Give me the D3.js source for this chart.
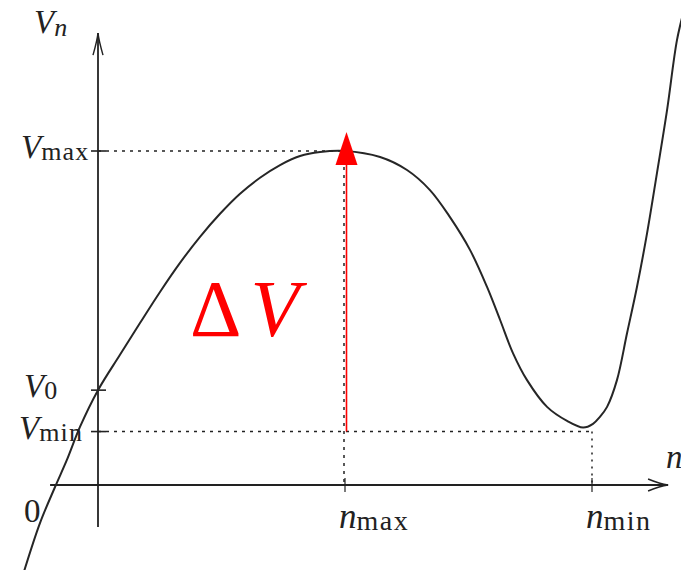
<!DOCTYPE html>
<html>
<head>
<meta charset="utf-8">
<script src="https://cdn.jsdelivr.net/npm/d3@7"></script>
<style>
  html, body { margin: 0; padding: 0; background: #fff; }
  svg { display: block; }
  text { font-family: "Liberation Serif", "DejaVu Serif", serif; fill: #222; }
</style>
</head>
<body>
<svg id="chart" width="681" height="570"></svg>
<script>
// Potential curve V(n), sampled along n (n_max = 1, n_min = 2, V_max = 1)
const curveN = [-0.30, -0.235, -0.174, -0.126, -0.073, 0, 0.089, 0.170, 0.251, 0.332,
  0.413, 0.494, 0.575, 0.656, 0.737, 0.818, 0.899, 1.0, 1.142, 1.251,
  1.344, 1.425, 1.506, 1.575, 1.628, 1.680, 1.737, 1.818, 1.899, 1.964,
  2.004, 2.032, 2.061, 2.101, 2.142, 2.182, 2.223, 2.263, 2.304, 2.344, 2.372];
const curveV = [-0.26, -0.114, -0.006, 0.075, 0.174, 0.284, 0.390, 0.485, 0.578, 0.665,
  0.743, 0.812, 0.872, 0.920, 0.958, 0.985, 0.997, 1.0, 0.982, 0.943,
  0.883, 0.802, 0.704, 0.593, 0.494, 0.395, 0.314, 0.234, 0.192, 0.172,
  0.183, 0.204, 0.234, 0.314, 0.455, 0.593, 0.754, 0.934, 1.123, 1.332, 1.42];

// Marked levels on the axes
const nMax = 1, nMin = 2;
const vMax = 1, v0 = 0.284, vMin = 0.16;
const nTickValues = [nMax, nMin];
const nTickSubs = ["max", "min"];
const vTickValues = [vMax, v0, vMin];
const vTickSubs = ["max", "0", "min"];

const svg = d3.select("#chart");
const x = d3.scaleLinear().domain([0, 2]).range([98, 592]);
const y = d3.scaleLinear().domain([0, 1]).range([485, 151]);

const ink = "#222";

// Axes (lines through the origin, with open arrowheads)
const xAxisStart = x(-0.194), xAxisEnd = x(2.308);
const yAxisTop = y(1.353), yAxisBottom = y(-0.126);
svg.append("line")
  .attr("x1", xAxisStart).attr("x2", xAxisEnd)
  .attr("y1", y(0)).attr("y2", y(0))
  .attr("stroke", ink).attr("stroke-width", 1.8);
svg.append("line")
  .attr("x1", x(0)).attr("x2", x(0))
  .attr("y1", yAxisBottom).attr("y2", yAxisTop)
  .attr("stroke", ink).attr("stroke-width", 1.8);

// LaTeX-style curved arrowheads
svg.append("path")
  .attr("d", `M${xAxisEnd - 20},${y(0) - 6} Q${xAxisEnd - 8},${y(0) - 1} ${xAxisEnd},${y(0)} Q${xAxisEnd - 8},${y(0) + 1} ${xAxisEnd - 20},${y(0) + 6}`)
  .attr("fill", "none").attr("stroke", ink).attr("stroke-width", 1.4);
svg.append("path")
  .attr("d", `M${x(0) - 5},${yAxisTop + 22} Q${x(0) - 1},${yAxisTop + 8} ${x(0)},${yAxisTop} Q${x(0) + 1},${yAxisTop + 8} ${x(0) + 5},${yAxisTop + 22}`)
  .attr("fill", "none").attr("stroke", ink).attr("stroke-width", 1.4);

// Dotted guide lines
const guide = svg.append("g")
  .attr("stroke", ink).attr("stroke-width", 1.5)
  .attr("stroke-dasharray", "3,5").attr("fill", "none");
guide.append("line")
  .attr("x1", x(0)).attr("x2", x(nMax)).attr("y1", y(vMax)).attr("y2", y(vMax));
guide.append("line")
  .attr("x1", x(nMax) - 1).attr("x2", x(nMax) - 1).attr("y1", y(vMax)).attr("y2", y(0));
guide.append("line")
  .attr("x1", x(0)).attr("x2", x(nMin)).attr("y1", y(vMin)).attr("y2", y(vMin));
guide.append("line")
  .attr("x1", x(nMin)).attr("x2", x(nMin)).attr("y1", y(vMin)).attr("y2", y(0))
  .attr("stroke-dasharray", "2,5");

// Tick marks crossing the axes
svg.selectAll(".vtick").data(vTickValues).join("line")
  .attr("x1", x(0) - 7).attr("x2", x(0) + 8)
  .attr("y1", d => y(d)).attr("y2", d => y(d))
  .attr("stroke", ink).attr("stroke-width", 1.6);
svg.selectAll(".ntick").data(nTickValues).join("line")
  .attr("x1", d => x(d)).attr("x2", d => x(d))
  .attr("y1", y(0) - 7).attr("y2", y(0) + 7)
  .attr("stroke", ink).attr("stroke-width", 1.2);

// The potential curve
const line = d3.line()
  .x((d, i) => x(curveN[i]))
  .y((d, i) => y(curveV[i]))
  .curve(d3.curveCatmullRom.alpha(0.5));
svg.append("path")
  .datum(curveV)
  .attr("d", line)
  .attr("fill", "none")
  .attr("stroke", "#262626")
  .attr("stroke-width", 2);

// Barrier height arrow ΔV from V_min up to V_max
const red = "#ff0000";
svg.append("line")
  .attr("x1", x(nMax) + 1.5).attr("x2", x(nMax) + 1.5)
  .attr("y1", y(vMin)).attr("y2", y(vMax) + 12)
  .attr("stroke", red).attr("stroke-width", 1.6);
const tipY = y(vMax) - 19, baseY = y(vMax) + 14;
svg.append("path")
  .attr("d", `M${x(nMax) + 1.5},${tipY} L${x(nMax) + 12.5},${baseY} L${x(nMax) - 9.5},${baseY} Z`)
  .attr("fill", red);
svg.append("text")
  .attr("x", 190).attr("y", 336)
  .attr("font-size", 80)
  .style("fill", red)
  .call(t => {
    t.append("tspan").text("Δ");
    t.append("tspan").attr("dx", 9).attr("font-style", "italic").text("V");
  });

// Axis labels with subscripts
function subLabel(sel, main, sub, mainSize, subSize, subDy, subStyle, spacing) {
  sel.append("tspan").attr("font-style", "italic").attr("font-size", mainSize).text(main);
  sel.append("tspan").attr("font-size", subSize).attr("dy", subDy)
    .attr("letter-spacing", spacing || 0)
    .attr("font-style", subStyle || "normal").text(sub);
}

// V_n (vertical axis title)
svg.append("text").attr("x", 34).attr("y", 33)
  .call(subLabel, "V", "n", 33, 26, 3, "italic");

// Level labels on the vertical axis
svg.selectAll(".vlab").data(vTickValues).join("text")
  .attr("x", (d, i) => [21, 24, 19][i])
  .attr("y", d => y(d) + 7)
  .each(function (d, i) {
    d3.select(this).call(subLabel, "V", vTickSubs[i], 33, 26, 2, "normal", 1.2);
  });

// n_max, n_min under the horizontal axis
svg.selectAll(".nlab").data(nTickValues).join("text")
  .attr("x", d => x(d) - 6)
  .attr("y", 528)
  .each(function (d, i) {
    d3.select(this).call(subLabel, "n", nTickSubs[i], 35, 28, 2, "normal", 1.5);
  });

// Origin and horizontal axis title
svg.append("text").attr("x", 24).attr("y", 522).attr("font-size", 33).text("0");
svg.append("text").attr("x", 666).attr("y", 468)
  .attr("font-size", 33).attr("font-style", "italic").text("n");
</script>
</body>
</html>
